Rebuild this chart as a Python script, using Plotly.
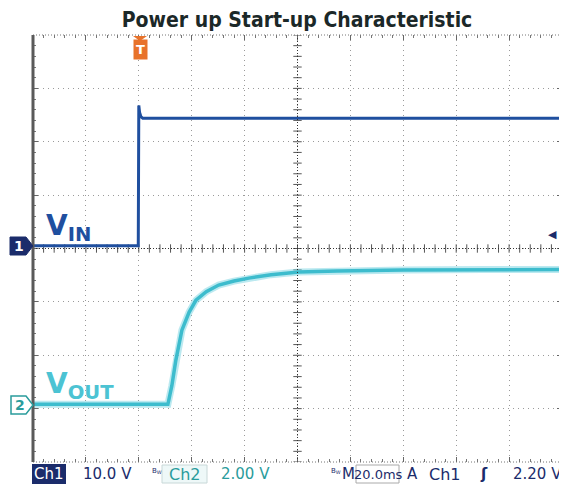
import plotly.graph_objects as go

# ──────────────────────────────────────────────────────────────
# Scope settings / captured data
# ──────────────────────────────────────────────────────────────
CH1_VDIV = 10.0     # V/div
CH2_VDIV = 2.00     # V/div
CH1_POS  = 0.05     # ground marker, divisions from centre
CH2_POS  = -2.92
TRIG_LEVEL = 2.20   # V on Ch1

# Ch1 - input voltage (V) against time from trigger (ms)
vin_t = [-40.0, -0.2, 0.0, 0.3, 0.8, 1.5, 40.0, 80.0, 120.0, 160.0]
vin_v = [0.0, 0.0, 26.3, 25.0, 24.2, 23.9, 23.9, 23.9, 23.9, 23.9]

# Ch2 - output voltage (V) against time from trigger (ms)
vout_t = [-40.0, 11.0, 12.5, 14.0, 16.3, 19.0, 21.6, 25.5, 30.2, 36.0,
          41.6, 50.0, 60.5, 75.0, 100.0, 130.0, 160.0]
vout_v = [0.0, 0.0, 0.7, 1.65, 2.78, 3.45, 3.9, 4.22, 4.47, 4.62,
          4.73, 4.86, 4.96, 5.0, 5.03, 5.05, 5.05]

x_range = [-40, 160]     # 10 div x 20 ms
y_range = [-4, 4]        # 8 div

NAVY = "#1b2c6b"
TEAL = "#2a9c9c"
BLUE = "#1f4f9f"
CYAN = "#3dbccd"
SB_FONT = "DejaVu Sans"

# page has an 8px body margin, so the figure is sized to fit inside it
OFF = 8
W, H = 559, 476
L, R, T, B = 25, 5, 27, 22
PW, PH = W - L - R, H - T - B


def px(x):
    """page pixel x -> paper coordinate"""
    return (x - OFF - L) / PW


def py(y):
    """page pixel y -> paper coordinate"""
    return (H - B - (y - OFF)) / PH


fig = go.Figure()

# centre graticule tick marks
cx_ticks = [x_range[0] + 4 * i for i in range(51)]
cy_ticks = [y_range[0] + 0.2 * i for i in range(41)]
fig.add_trace(go.Scatter(
    x=cx_ticks, y=[0] * len(cx_ticks), mode="markers", hoverinfo="skip",
    marker=dict(symbol="line-ns", size=6, line=dict(color="#555", width=1)),
))
fig.add_trace(go.Scatter(
    x=[60] * len(cy_ticks), y=cy_ticks, mode="markers", hoverinfo="skip",
    marker=dict(symbol="line-ew", size=6, line=dict(color="#555", width=1)),
))

# traces
vin_y = [v / CH1_VDIV + CH1_POS for v in vin_v]
vout_y = [v / CH2_VDIV + CH2_POS for v in vout_v]

fig.add_trace(go.Scatter(x=vout_t, y=vout_y, mode="lines",
                         line=dict(color="rgba(120,212,226,0.5)", width=7)))
fig.add_trace(go.Scatter(x=vout_t, y=vout_y, mode="lines",
                         line=dict(color=CYAN, width=3.5)))
fig.add_trace(go.Scatter(x=vin_t, y=vin_y, mode="lines",
                         line=dict(color=BLUE, width=3)))

# centre dotted lines + borders
shapes = [
    dict(type="line", xref="x", yref="paper", x0=60, x1=60, y0=0, y1=1,
         line=dict(color="#333", width=1, dash="1px,2px")),
    dict(type="line", xref="paper", yref="y", x0=0, x1=1, y0=0, y1=0,
         line=dict(color="#333", width=1, dash="1px,2px")),
    dict(type="line", xref="paper", yref="paper", x0=0, x1=1, y0=1, y1=1,
         line=dict(color="#777", width=1, dash="1px,2px")),
    dict(type="line", xref="paper", yref="paper", x0=0, x1=1, y0=0, y1=0,
         line=dict(color="#777", width=1, dash="1px,2px")),
    dict(type="line", xref="paper", yref="paper", x0=0, x1=0, y0=0, y1=1,
         line=dict(color="#5a5a5a", width=3)),
    dict(type="line", xref="paper", yref="paper", x0=1, x1=1, y0=0, y1=1,
         line=dict(color="#b5b5b5", width=3)),
    # status bar boxes
    dict(type="rect", xref="paper", yref="paper", x0=px(32), x1=px(66),
         y0=py(484), y1=py(464), fillcolor=NAVY, line=dict(width=0)),
    dict(type="rect", xref="paper", yref="paper", x0=px(162), x1=px(207),
         y0=py(483), y1=py(465), fillcolor="#eef8f8",
         line=dict(color="#c8d8d8", width=1)),
    dict(type="rect", xref="paper", yref="paper", x0=px(356), x1=px(399),
         y0=py(483), y1=py(465), fillcolor="rgba(0,0,0,0)",
         line=dict(color="#aaa", width=1)),
    # channel markers
    dict(type="path", xref="paper", yref="paper", layer="above",
         path=f"M {px(10)} {py(237)} L {px(26)} {py(237)} L {px(33)} {py(246)} "
              f"L {px(26)} {py(255)} L {px(10)} {py(255)} Z",
         fillcolor=NAVY, line=dict(color=NAVY, width=1)),
    dict(type="path", xref="paper", yref="paper", layer="above",
         path=f"M {px(11)} {py(396)} L {px(26)} {py(396)} L {px(33)} {py(405)} "
              f"L {px(26)} {py(414)} L {px(11)} {py(414)} Z",
         fillcolor="white", line=dict(color=TEAL, width=1.5)),
    # trigger badge
    dict(type="path", xref="paper", yref="paper", layer="above",
         path=f"M {px(133)} {py(36)} L {px(147)} {py(36)} L {px(140)} {py(41)} Z",
         fillcolor="#e8722a", line=dict(width=0)),
]

sb_y = py(474)
annotations = [
    dict(text="V<sub>IN</sub>", x=px(44), y=py(228), xanchor="left",
         font=dict(family="DejaVu Sans", size=28, color=BLUE, weight="bold")),
    dict(text="V<sub>OUT</sub>", x=px(44), y=py(385), xanchor="left",
         font=dict(family="DejaVu Sans", size=28, color="#4cc3d3", weight="bold")),
    dict(text="1", x=px(19), y=py(246), font=dict(family="DejaVu Sans", size=14,
                                                   color="white", weight="bold")),
    dict(text="2", x=px(20), y=py(405), font=dict(family="DejaVu Sans", size=14,
                                                   color=TEAL, weight="bold")),
    dict(text="T", x=px(140), y=py(49), bgcolor="#e8722a", borderpad=2,
         font=dict(family="DejaVu Sans", size=13, color="white", weight="bold")),
    dict(text="◀", x=px(552), y=(TRIG_LEVEL / CH1_VDIV + CH1_POS - y_range[0]) / 8,
         font=dict(family="DejaVu Sans", size=11, color=NAVY)),
    # status bar
    dict(text="Ch1", x=px(49), y=sb_y, font=dict(family=SB_FONT, size=15, color="white")),
    dict(text="10.0 V", x=px(107), y=sb_y, font=dict(family=SB_FONT, size=15, color=NAVY)),
    dict(text="B<sub>W</sub>", x=px(157), y=py(471), font=dict(family=SB_FONT, size=7, color=NAVY)),
    dict(text="Ch2", x=px(185), y=sb_y, font=dict(family=SB_FONT, size=16, color=TEAL)),
    dict(text="2.00 V", x=px(245), y=sb_y, font=dict(family=SB_FONT, size=15, color=TEAL)),
    dict(text="B<sub>W</sub>", x=px(336), y=py(471), font=dict(family=SB_FONT, size=7, color=NAVY)),
    dict(text="M", x=px(348), y=sb_y, font=dict(family=SB_FONT, size=15, color=NAVY)),
    dict(text="20.0ms", x=px(378), y=sb_y, font=dict(family=SB_FONT, size=13, color=NAVY)),
    dict(text="A", x=px(412), y=sb_y, font=dict(family=SB_FONT, size=15, color=NAVY)),
    dict(text="Ch1", x=px(445), y=sb_y, font=dict(family=SB_FONT, size=16, color=NAVY)),
    dict(text="ʃ", x=px(484), y=sb_y, font=dict(family="DejaVu Sans", size=15, color=NAVY, weight="bold")),
    dict(text="2.20 V", x=px(537), y=sb_y, font=dict(family=SB_FONT, size=15, color=NAVY)),
]
for a in annotations:
    a.setdefault("xref", "paper")
    a.setdefault("yref", "paper")
    a.setdefault("xanchor", "center")
    a.setdefault("yanchor", "middle")
    a.setdefault("showarrow", False)

axis_common = dict(
    showline=False, zeroline=False, showticklabels=False,
    showgrid=True, gridcolor="#9a9a9a", gridwidth=1, griddash="1px,4px",
    ticks="inside", ticklen=5, tickcolor="#666", mirror="allticks",
)

fig.update_layout(
    width=W, height=H,
    margin=dict(l=L, r=R, t=T, b=B),
    plot_bgcolor="white",
    paper_bgcolor="white",
    showlegend=False,
    title=dict(text="Power up Start-up Characteristic", xref="paper", x=px(297),
               xanchor="center", yref="container", y=1 - (20 - OFF) / H, yanchor="middle",
               font=dict(family="DejaVu Sans Condensed", size=21, weight="bold",
                         color="#1b2828")),
    xaxis=dict(range=x_range, tick0=x_range[0], dtick=20,
               minor=dict(ticks="inside", ticklen=3, dtick=4, tickcolor="#777", showgrid=False),
               **axis_common),
    yaxis=dict(range=y_range, tick0=y_range[0], dtick=1,
               minor=dict(ticks="inside", ticklen=3, dtick=0.2, tickcolor="#777", showgrid=False),
               **axis_common),
    shapes=shapes,
    annotations=annotations,
)

fig.write_html("out.html")
